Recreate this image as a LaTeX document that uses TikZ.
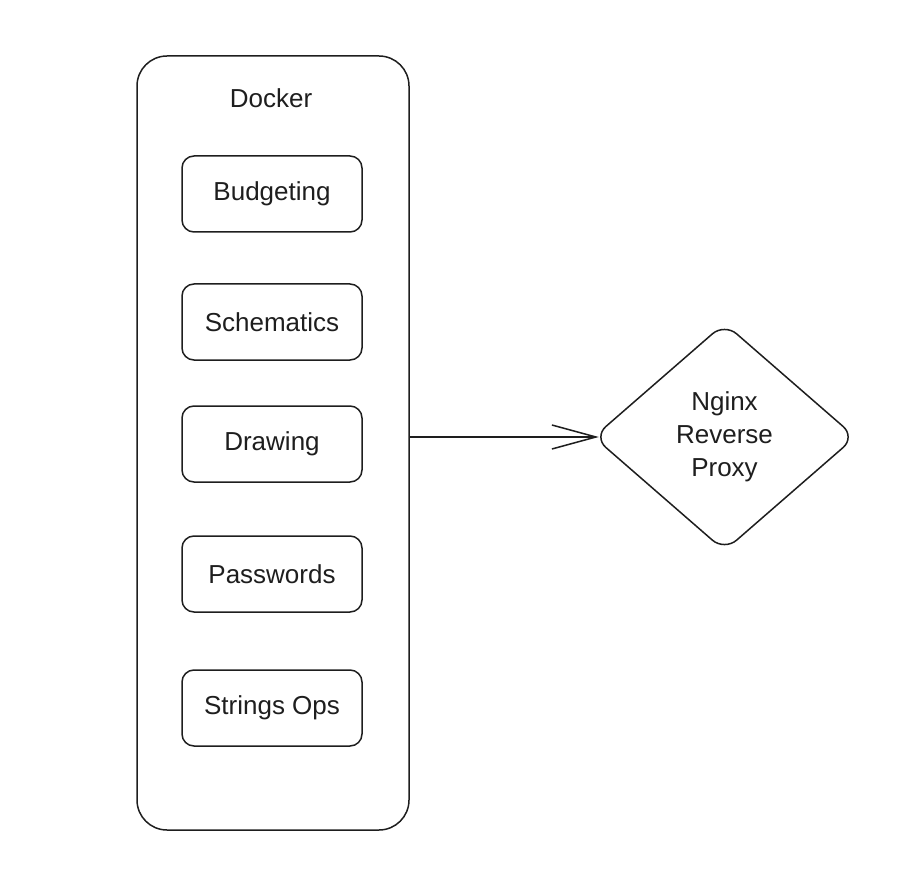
\documentclass[tikz,border=0pt]{standalone}
\usepackage{fontspec}
\setmainfont{Liberation Sans}
\usetikzlibrary{shapes.geometric,arrows.meta}
\definecolor{ink}{HTML}{1E1E1E}
\begin{document}
\begin{tikzpicture}[x=1pt,y=-1pt,
  line width=1.5pt,
  outer/.style={draw=ink,rounded corners=30pt,minimum width=272pt,minimum height=774pt,inner sep=0pt},
  svc/.style={draw=ink,rounded corners=12pt,minimum width=180pt,minimum height=76pt,inner sep=0pt,
    font=\fontsize{26}{30}\selectfont,text=ink},
  lbl/.style={font=\fontsize{26}{30}\selectfont,text=ink},
  proxy/.style={draw=ink,diamond,rounded corners=16pt,minimum width=262pt,minimum height=228pt,inner sep=0pt,
    align=center,font=\fontsize{26}{33}\selectfont,text=ink},
  link/.style={draw=ink,-{Straight Barb[length=44pt,width=24pt,line width=1.5pt]}}]
\useasboundingbox (0,0) rectangle (920,882);
\node[outer] (docker) at (273,443) {};
\node[lbl] (dockerlbl) at (271,98) {Docker};
\node[svc] (budget) at (272,194) {Budgeting};
\node[svc] (schem) at (272,322) {Schematics};
\node[svc] (draw) at (272,444) {Drawing};
\node[svc] (pass) at (272,574) {Passwords};
\node[svc] (strings) at (272,708) {Strings Ops};
\node[proxy] (nginx) at (724.5,437) {Nginx\\Reverse\\Proxy};
\draw[link] (docker.east |- nginx.west) -- ([xshift=6pt]nginx.west);
\end{tikzpicture}
\end{document}
